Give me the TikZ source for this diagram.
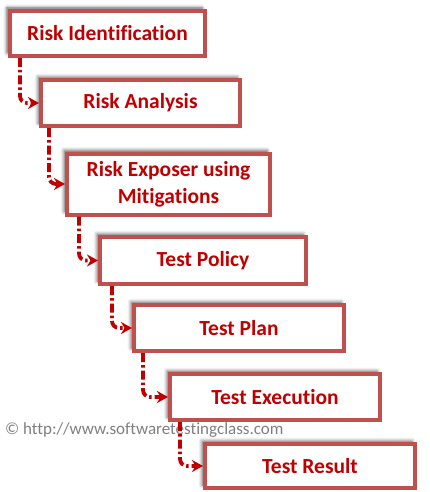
\documentclass[tikz,border=0pt]{standalone}
\usepackage{fontspec}
\setmainfont{Carlito}[Ligatures=NoCommon]
\usetikzlibrary{arrows.meta,shadows.blur}
\definecolor{boxline}{HTML}{C0504D}
\definecolor{txtred}{HTML}{C00000}
\definecolor{wmgray}{HTML}{7F7F7F}
\tikzset{
  stepbox/.style={draw=boxline, line width=4pt, fill=white, inner sep=0pt,
    align=center, text=txtred, font=\fontsize{21.5}{27}\selectfont\bfseries,
    blur shadow={shadow xshift=-3pt, shadow yshift=3pt, shadow blur radius=3.5pt, shadow opacity=65}},
  conn/.style={draw=txtred, line width=3.8pt, rounded corners=7pt,
    dash pattern=on 9pt off 3pt on 2.5pt off 3pt,
    -{Stealth[length=11pt, width=12pt, inset=3.5pt]}}
}
\begin{document}
\begin{tikzpicture}[x=1pt, y=-1pt]
\useasboundingbox (0,0) rectangle (429,492);
\node[stepbox, minimum width=195pt, minimum height=45pt] (b1) at (107.5,33.5) {Risk Identification};
\node[stepbox, minimum width=199pt, minimum height=46pt] (b2) at (140.5,103) {Risk Analysis};
\node[stepbox, minimum width=203pt, minimum height=61pt] (b3) at (168.5,184) {Risk Exposer using\\Mitigations};
\node[stepbox, minimum width=206pt, minimum height=47pt] (b4) at (203,260.5) {Test Policy};
\node[stepbox, minimum width=210pt, minimum height=46pt] (b5) at (239,328) {Test Plan};
\node[stepbox, minimum width=210pt, minimum height=46pt] (b6) at (275,397) {Test Execution};
\node[anchor=base west, inner sep=0pt, text=wmgray, font=\fontsize{17}{19}\selectfont] (wm) at (5,434) {© http://www.softwaretestingclass.com};
\node[stepbox, minimum width=210pt, minimum height=44pt] (b7) at (310,466) {Test Result};
\draw[conn] ([xshift=12pt]b1.south west) |- (b2.west);
\draw[conn] ([xshift=10pt]b2.south west) |- (b3.west);
\draw[conn] ([xshift=14pt]b3.south west) |- (b4.west);
\draw[conn] ([xshift=14pt]b4.south west) |- (b5.west);
\draw[conn] ([xshift=11pt]b5.south west) |- (b6.west);
\draw[conn] ([xshift=12pt]b6.south west) |- (b7.west);
\end{tikzpicture}
\end{document}
